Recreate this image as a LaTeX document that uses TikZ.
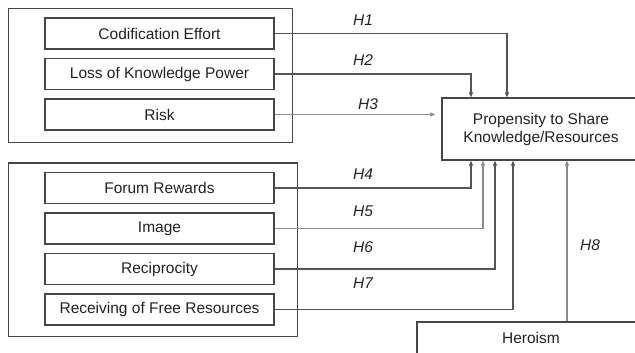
\documentclass[tikz,border=0pt]{standalone}
\usepackage{fontspec}
\setmainfont{Liberation Sans}
\usetikzlibrary{positioning,arrows.meta}
\definecolor{boxgray}{HTML}{464646}
\definecolor{darkline}{HTML}{555555}
\definecolor{lightline}{HTML}{8C8C8C}
\definecolor{textgray}{HTML}{222222}

\begin{document}
\begin{tikzpicture}[x=1pt, y=-1pt, node distance=40.5pt, on grid, text=textgray,
	factor/.style={draw=boxgray, line width=1.3pt, minimum width=229pt, minimum height=31pt, inner sep=0pt, font=\fontsize{15.5}{18}\selectfont},
	hyp/.style={font=\fontsize{15.5}{18}\selectfont\itshape},
	link/.style={-{Triangle[length=5pt,width=4pt]}, line width=1.2pt, draw=darkline},
	faint/.style={draw=lightline}]
	\useasboundingbox (0,0) rectangle (635,353);
	\clip (0,0) rectangle (635,353);
	
	\node[factor] (cod) at (159.5,33.5) {Codification Effort};
	\node[factor] (loss) [below=of cod] {Loss of Knowledge Power};
	\node[factor] (risk) [below=of loss] {Risk};
	
	\node[factor] (forum) at (159.5,188) {Forum Rewards};
	\node[factor] (image) [below=of forum] {Image};
	\node[factor] (recip) [below=of image] {Reciprocity};
	\node[factor] (free) [below=of recip] {Receiving of Free Resources};
	
	\node[factor, minimum width=198pt, minimum height=62pt, align=center] (share) at (541,129) {Propensity to Share\\Knowledge/Resources};
	\node[factor, minimum width=228pt, minimum height=32pt] (hero) at (531,338) {Heroism};
	
	% group frames
	\draw[boxgray, line width=1.3pt] ([xshift=-36pt,yshift=9pt]cod.north west) rectangle ([xshift=18pt,yshift=-12pt]risk.south east);
	\draw[boxgray, line width=1.3pt] ([xshift=-36pt,yshift=9pt]forum.north west) rectangle ([xshift=23pt,yshift=-11pt]free.south east);
	
	\draw[link] (cod.east) -| ([xshift=-34pt]share.north);
	\draw[link] (loss.east) -| ([xshift=-70pt]share.north);
	\draw[link, faint, shorten >=6pt] (risk.east) -- (risk.east -| share.west);
	
	\draw[link] (forum.east) -| ([xshift=-70pt]share.south);
	\draw[link, faint] (image.east) -| ([xshift=-58pt]share.south);
	\draw[link] (recip.east) -| ([xshift=-46pt]share.south);
	\draw[link] (free.east) -| ([xshift=-28pt]share.south);
	\draw[link, faint] ([xshift=36pt]hero.north) -- ([xshift=26pt]share.south);
	
	\node[hyp] (h1) at (363,20) {H1};
	\node[hyp] (h2) at (363,60) {H2};
	\node[hyp] (h3) at (368,104) {H3};
	\node[hyp] (h4) at (363,174) {H4};
	\node[hyp] (h5) at (363,211) {H5};
	\node[hyp] (h6) at (363,247) {H6};
	\node[hyp] (h7) at (363,283) {H7};
	\node[hyp] (h8) at (590,245) {H8};
	
\end{tikzpicture}
\end{document}
